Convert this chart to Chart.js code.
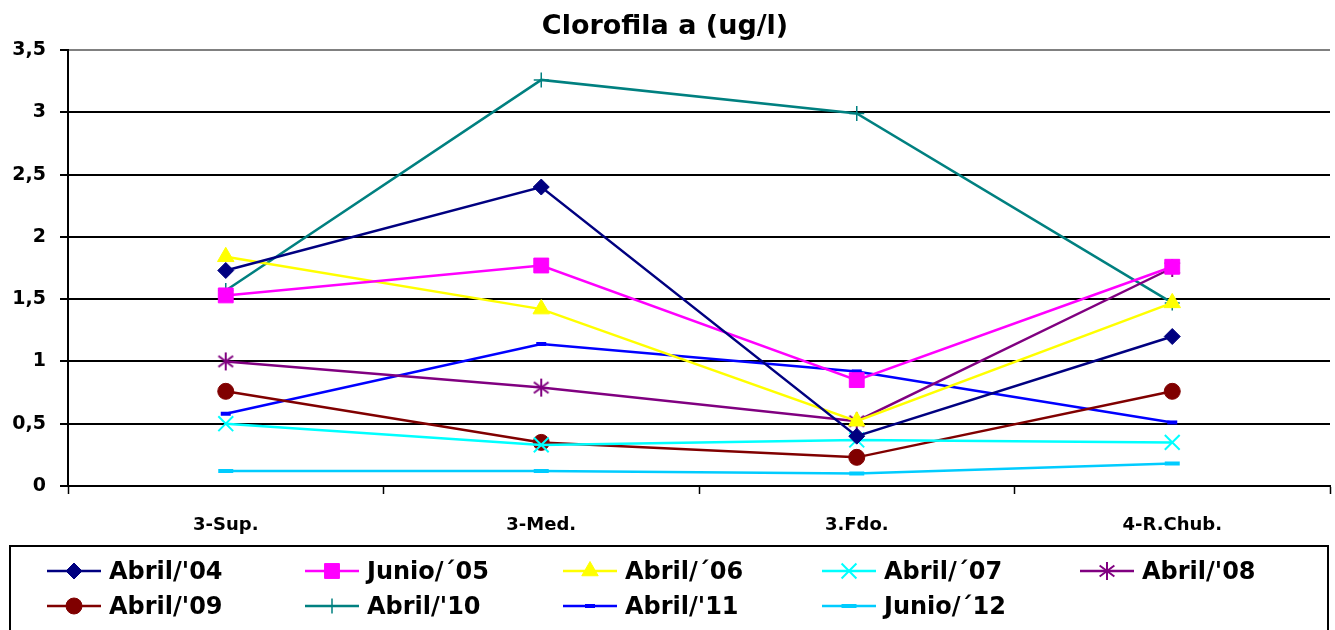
<!DOCTYPE html>
<html>
<head>
<meta charset="utf-8">
<script src="https://cdn.jsdelivr.net/npm/chart.js@4.4.1/dist/chart.umd.min.js"></script>
<style>
  html, body { margin: 0; padding: 0; background: #fff; }
  #wrap { position: relative; width: 1335px; height: 630px; }
</style>
</head>
<body>
<div id="wrap"><canvas id="c" width="1335" height="630"></canvas></div>
<script>
// Sampling stations
const categories = ['3-Sup.', '3-Med.', '3.Fdo.', '4-R.Chub.'];

// Chlorophyll a (ug/l) per campaign
const abril04 = [1.73, 2.40, 0.40, 1.20];
const junio05 = [1.53, 1.77, 0.85, 1.76];
const abril06 = [1.84, 1.42, 0.52, 1.47];
const abril07 = [0.50, 0.33, 0.37, 0.35];
const abril08 = [1.00, 0.79, 0.52, 1.75];
const abril09 = [0.76, 0.35, 0.23, 0.76];
const abril10 = [1.57, 3.26, 2.99, 1.47];
const abril11 = [0.58, 1.14, 0.92, 0.51];
const junio12 = [0.12, 0.12, 0.10, 0.18];

const seriesLabels = ["Abril/'04", "Junio/\u00b405", "Abril/\u00b406", "Abril/\u00b407", "Abril/'08",
                      "Abril/'09", "Abril/'10", "Abril/'11", "Junio/\u00b412"];

// Value axis ticks
const yTickValues = [0, 0.5, 1, 1.5, 2, 2.5, 3, 3.5];

const FONT = '"DejaVu Sans", Verdana, sans-serif';

// Six-armed asterisk marker (vertical stroke plus two diagonals)
function asterisk(color, r) {
  const c = document.createElement('canvas');
  const s = Math.ceil(r * 2 + 4);
  c.width = s; c.height = s;
  const g = c.getContext('2d');
  const m = s / 2;
  g.strokeStyle = color;
  g.lineWidth = 2;
  g.lineCap = 'butt';
  g.beginPath();
  g.moveTo(m, m - r); g.lineTo(m, m + r);
  const d = r * 0.82;
  g.moveTo(m - d, m - d * 0.75); g.lineTo(m + d, m + d * 0.75);
  g.moveTo(m + d, m - d * 0.75); g.lineTo(m - d, m + d * 0.75);
  g.stroke();
  return c;
}

function ds(label, data, color, style, radius, bw) {
  return {
    label: label,
    data: data,
    borderColor: color,
    backgroundColor: color,
    borderWidth: 2.5,
    pointStyle: style,
    pointRadius: radius,
    pointHoverRadius: radius,
    pointBorderColor: color,
    pointBackgroundColor: color,
    pointBorderWidth: bw,
    tension: 0,
    fill: false
  };
}

const datasets = [
  ds(seriesLabels[0], abril04, '#000080', 'rectRot', 8, 1),
  ds(seriesLabels[1], junio05, '#FF00FF', 'rect', 10.5, 1),
  ds(seriesLabels[2], abril06, '#FFFF00', 'triangle', 9.5, 1),
  ds(seriesLabels[3], abril07, '#00FFFF', 'crossRot', 10.5, 2),
  ds(seriesLabels[4], abril08, '#800080', asterisk('#800080', 9), 9, 2),
  ds(seriesLabels[5], abril09, '#800000', 'circle', 8, 1),
  ds(seriesLabels[6], abril10, '#008080', 'cross', 7.5, 1.5),
  ds(seriesLabels[7], abril11, '#0000FF', 'line', 5, 4),
  ds(seriesLabels[8], junio12, '#00CCFF', 'line', 7.5, 4)
];

// Boxed legend with line + marker samples in a fixed five-column grid
const boxedLegend = {
  id: 'boxedLegend',
  afterDraw(chart) {
    const ctx = chart.ctx;
    ctx.save();
    ctx.strokeStyle = '#000';
    ctx.lineWidth = 2;
    ctx.strokeRect(10, 546, 1318, 100);
    const colX = [47, 305, 563, 822, 1080];
    const rowY = [571, 606];
    chart.data.datasets.forEach((d, i) => {
      const col = i % 5, row = Math.floor(i / 5);
      const x0 = colX[col], y = rowY[row];
      ctx.strokeStyle = d.borderColor;
      ctx.lineWidth = 2.5;
      ctx.beginPath();
      ctx.moveTo(x0, y);
      ctx.lineTo(x0 + 54, y);
      ctx.stroke();
      ctx.fillStyle = d.pointBackgroundColor;
      ctx.strokeStyle = d.pointBorderColor;
      ctx.lineWidth = d.pointBorderWidth;
      Chart.helpers.drawPoint(ctx, {
        pointStyle: d.pointStyle,
        radius: d.pointRadius,
        rotation: 0,
        borderWidth: d.pointBorderWidth
      }, x0 + 27, y);
      ctx.fillStyle = '#000';
      ctx.font = 'bold 24px ' + FONT;
      ctx.textBaseline = 'alphabetic';
      ctx.textAlign = 'left';
      ctx.fillText(d.label, x0 + 62, y + 8);
    });
    ctx.restore();
  }
};

new Chart(document.getElementById('c'), {
  type: 'line',
  data: { labels: categories, datasets: datasets },
  plugins: [boxedLegend],
  options: {
    responsive: false,
    animation: false,
    devicePixelRatio: 1,
    layout: { autoPadding: false, padding: { left: 0, right: 5, top: 0, bottom: 84 } },
    plugins: {
      legend: { display: false },
      tooltip: { enabled: false },
      title: {
        display: true,
        text: 'Clorofila a (ug/l)',
        color: '#000',
        font: { family: FONT, size: 27, weight: 'bold' },
        padding: { top: 11, bottom: 6.6 }
      }
    },
    scales: {
      x: {
        type: 'category',
        offset: true,
        border: { display: true, color: '#000', width: 2 },
        grid: {
          offset: true,
          drawOnChartArea: false,
          drawTicks: true,
          tickLength: 8,
          tickWidth: 1.5,
          tickColor: '#000'
        },
        ticks: {
          color: '#000',
          font: { family: FONT, size: 18, weight: 'bold' },
          padding: 21,
          maxRotation: 0
        },
        afterFit(scale) {
          scale.height = 60;
        }
      },
      y: {
        min: 0,
        max: 3.5,
        border: { display: true, color: '#000', width: 2 },
        grid: {
          color: (c) => (c.tick && c.tick.value === 3.5 ? '#808080' : '#000'),
          lineWidth: 2,
          drawTicks: true,
          tickLength: 8,
          tickColor: '#000'
        },
        afterBuildTicks(scale) {
          scale.ticks = yTickValues.map(v => ({ value: v }));
        },
        ticks: {
          color: '#000',
          font: { family: FONT, size: 19, weight: 'bold' },
          padding: 14,
          callback: (v) => String(v).replace('.', ',')
        },
        afterFit(scale) { scale.width = 68; }
      }
    }
  }
});
</script>
</body>
</html>
